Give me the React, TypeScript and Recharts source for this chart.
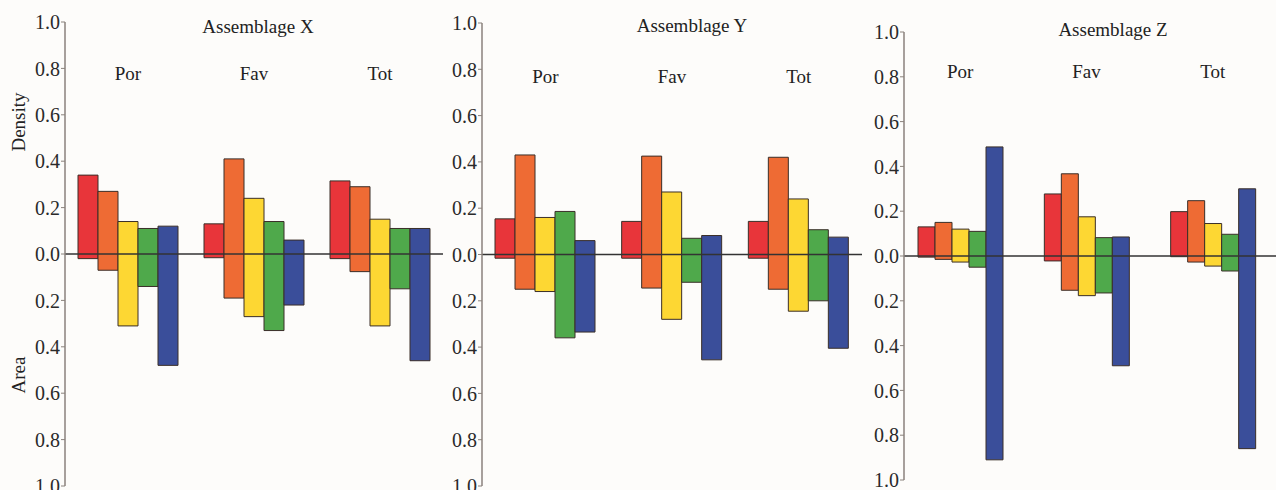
import React from 'react';
import { BarChart, Bar, XAxis, YAxis, ReferenceLine } from 'recharts';

const categories = ['Por', 'Fav', 'Tot'];
const seriesNames = ['red', 'orange', 'yellow', 'green', 'blue'];
const colors = ['#e8353a', '#ee6b34', '#fdd733', '#4fa94b', '#3a4e9a'];

// per category (Por, Fav, Tot), per series: density goes up, area goes down
const densityX = [
  [0.34, 0.27, 0.14, 0.11, 0.12],
  [0.13, 0.41, 0.24, 0.14, 0.06],
  [0.315, 0.29, 0.15, 0.11, 0.11],
];
const areaX = [
  [0.02, 0.07, 0.31, 0.14, 0.48],
  [0.016, 0.19, 0.27, 0.33, 0.22],
  [0.02, 0.076, 0.31, 0.15, 0.46],
];
const densityY = [
  [0.154, 0.43, 0.16, 0.186, 0.06],
  [0.143, 0.425, 0.27, 0.07, 0.082],
  [0.143, 0.42, 0.24, 0.107, 0.075],
];
const areaY = [
  [0.016, 0.15, 0.16, 0.36, 0.335],
  [0.016, 0.145, 0.28, 0.12, 0.455],
  [0.016, 0.15, 0.245, 0.2, 0.405],
];
const densityZ = [
  [0.13, 0.15, 0.12, 0.11, 0.487],
  [0.277, 0.367, 0.175, 0.082, 0.085],
  [0.198, 0.247, 0.145, 0.097, 0.3],
];
const areaZ = [
  [0.005, 0.015, 0.027, 0.05, 0.91],
  [0.022, 0.153, 0.177, 0.165, 0.49],
  [0.003, 0.027, 0.045, 0.067, 0.86],
];
const yTicks = [-1, -0.8, -0.6, -0.4, -0.2, 0, 0.2, 0.4, 0.6, 0.8, 1];

const FONT = '"Liberation Serif", "DejaVu Serif", serif';

// y ticks show magnitude only: density above zero, area below
const renderYTick = (p: any) => (
  <text
    x={p.x}
    y={p.y}
    dy="0.36em"
    textAnchor="end"
    style={{ fontSize: 20, fontFamily: FONT, fill: '#2a2a2a' }}
  >
    {Math.abs(p.payload.value).toFixed(1)}
  </text>
);

interface PanelProps {
  title: string;
  density: number[][];
  area: number[][];
  left: number;
  width: number;
  margin: { top: number; right: number; bottom: number; left: number };
  barSize: number;
  padLeft: number;
  catShift: number;
  titleX: number;
  titleY: number;
}

const Panel: React.FC<PanelProps> = ({
  title, density, area, left, width, margin, barSize, padLeft, catShift, titleX, titleY,
}) => {
  const rows = categories.map((cat, ci) => {
    const row: Record<string, any> = { cat };
    seriesNames.forEach((s, si) => {
      row[s] = [-area[ci][si], density[ci][si]];
    });
    return row;
  });

  // category names sit inside the plot, under the panel title
  const renderCat = (p: any) => (
    <text
      x={p.x}
      y={margin.top + catShift}
      textAnchor="middle"
      style={{ fontSize: 19, fontFamily: FONT, fill: '#222' }}
    >
      {p.payload.value}
    </text>
  );

  return (
    <div style={{ position: 'absolute', left, top: 0, width, height: 490, fontFamily: FONT }}>
      <BarChart width={width} height={490} data={rows} margin={margin} barSize={barSize} barGap={0}>
        <XAxis
          dataKey="cat"
          orientation="top"
          height={1}
          axisLine={false}
          tickLine={false}
          padding={{ left: padLeft, right: 0 }}
          tick={renderCat}
        />
        <YAxis
          type="number"
          domain={[-1, 1]}
          ticks={yTicks}
          interval={0}
          width={45}
          axisLine={{ stroke: '#8a827c', strokeWidth: 1.5 }}
          tickLine={{ stroke: '#8a827c' }}
          tickSize={4}
          tickMargin={1}
          tick={renderYTick}
        />
        {seriesNames.map((s, i) => (
          <Bar
            key={s}
            dataKey={s}
            fill={colors[i]}
            stroke="#3a2e28"
            strokeWidth={1}
            isAnimationActive={false}
          />
        ))}
        <ReferenceLine y={0} stroke="#333" strokeWidth={1.5} />
      </BarChart>
      <div
        style={{
          position: 'absolute', left: titleX - left - 100, top: titleY - 12, width: 200,
          textAlign: 'center', fontSize: 19, color: '#222', lineHeight: '24px',
        }}
      >
        {title}
      </div>
    </div>
  );
};

export default function App() {
  return (
    <div
      style={{
        position: 'absolute', left: 0, top: 0, width: 1276, height: 490,
        background: '#fdfcfa', overflow: 'hidden', fontFamily: FONT,
      }}
    >
      <Panel
        title="Assemblage X" density={densityX} area={areaX}
        left={0} width={445} margin={{ top: 21, right: 2, bottom: 4, left: 20 }}
        barSize={20} padLeft={0} catShift={59} titleX={258} titleY={27}
      />
      <Panel
        title="Assemblage Y" density={densityY} area={areaY}
        left={437} width={427} margin={{ top: 22, right: 2, bottom: 4, left: 0 }}
        barSize={20} padLeft={0} catShift={61} titleX={692} titleY={26}
      />
      <Panel
        title="Assemblage Z" density={densityZ} area={areaZ}
        left={859} width={417} margin={{ top: 31, right: 0, bottom: 10, left: 0 }}
        barSize={17} padLeft={-7} catShift={47} titleX={1113} titleY={30}
      />
      <div
        style={{
          position: 'absolute', left: 19, top: 122, transform: 'translate(-50%, -50%) rotate(-90deg)',
          fontSize: 19, color: '#222', whiteSpace: 'nowrap',
        }}
      >
        Density
      </div>
      <div
        style={{
          position: 'absolute', left: 19, top: 375, transform: 'translate(-50%, -50%) rotate(-90deg)',
          fontSize: 19, color: '#222', whiteSpace: 'nowrap',
        }}
      >
        Area
      </div>
    </div>
  );
}
